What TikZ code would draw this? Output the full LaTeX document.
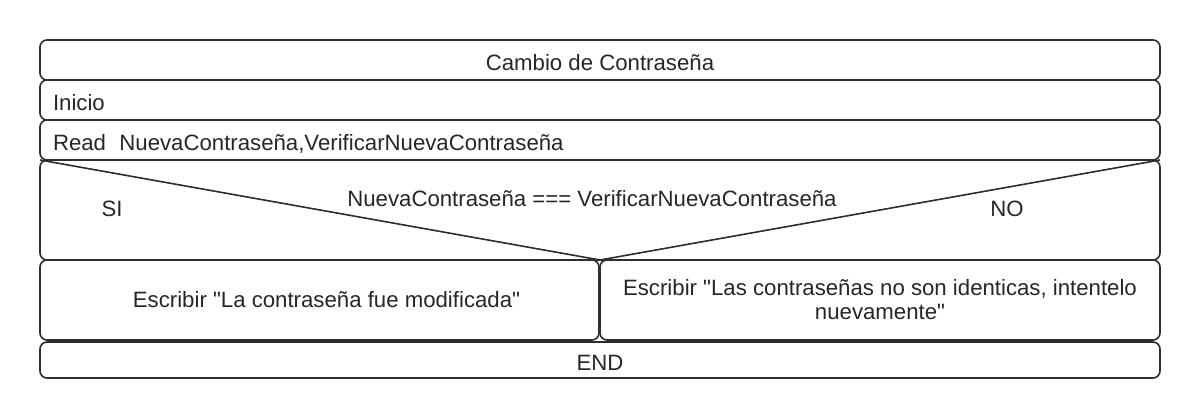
\documentclass[tikz,border=0pt]{standalone}
\usepackage{fontspec}
\setmainfont{Liberation Sans}
\usetikzlibrary{positioning}
\definecolor{linea}{HTML}{2B2D33}
\tikzset{
  fila/.style = {draw=linea, line width=1.6pt, rounded corners=7pt,
    inner sep=0pt, minimum height=40pt, text=black!85,
    font=\fontsize{22.2}{24}\selectfont},
  bajo/.style = {text height=21pt, text depth=0pt},
  izq/.style = {text width=1094pt, align=left},
  texto/.style = {inner sep=0pt, text=black!85, font=\fontsize{22.2}{24}\selectfont}
}

\begin{document}
\begin{tikzpicture}[x=1pt,y=-1pt]
  \useasboundingbox (0,0) rectangle (1200,419);
  % cabecera
  \node[fila,bajo,minimum width=1120pt] (titulo) at (600,60) {Cambio de Contraseña};
  \node[fila,bajo,izq,minimum width=1120pt] (inicio) at (600,100) {Inicio};
  \node[fila,bajo,izq,minimum width=1120pt] (leer) at (600,140) {Read\hspace{0.6em}NuevaContraseña,VerificarNuevaContraseña};
  % condicion
  \node[fila,minimum width=1120pt,minimum height=100pt] (cond) at (600,210) {};
  \coordinate (esqi) at (40,160);
  \coordinate (esqd) at (1160,160);
  \coordinate (apice) at (600,260);
  \draw[linea,line width=1.6pt] (esqi) -- (apice) -- (esqd);
  \node[texto] (pregunta) at (592,199) {NuevaContraseña === VerificarNuevaContraseña};
  \node[texto] (si) at (112,209) {SI};
  \node[texto] (no) at (1007,209) {NO};
  % ramas
  \node[fila,minimum width=559pt,minimum height=80pt] (ramasi) at (319.5,300)
    {\hspace{14pt}Escribir \textquotedbl La contraseña fue modificada\textquotedbl};
  \node[fila,minimum width=560pt,minimum height=80pt,align=center] (ramano) at (880,300)
    {Escribir \textquotedbl Las contraseñas no son identicas, intentelo\\nuevamente\textquotedbl};
  \node[fila,bajo,minimum width=1120pt,minimum height=36pt] (fin) at (600,360) {END};
\end{tikzpicture}
\end{document}
